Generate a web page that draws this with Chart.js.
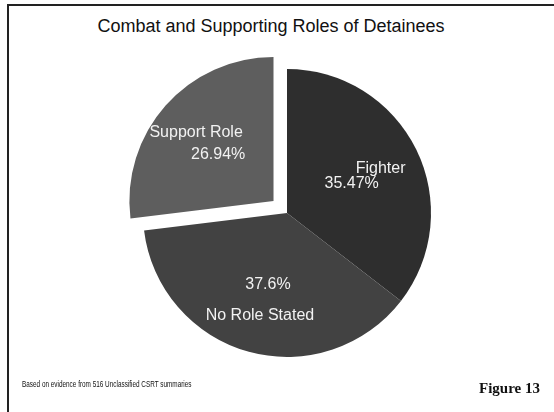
<!DOCTYPE html>
<html>
<head>
<meta charset="utf-8">
<script src="https://cdn.jsdelivr.net/npm/chart.js@4"></script>
<style>
  html, body { margin: 0; padding: 0; background: #fff; }
  #wrap { position: relative; width: 554px; height: 412px; overflow: hidden; }
  #frame { position: absolute; left: 7px; top: 4px; width: 560px; height: 420px;
           border-top: 2px solid #222; border-left: 2px solid #222; }
  #titulo { position: absolute; left: 0; top: 16px; width: 542px; text-align: center;
            font: 18px "Liberation Sans", Arial, sans-serif; color: #111; }
  #nota { position: absolute; left: 22px; top: 379px; transform: scaleX(0.71); transform-origin: left;
          font: 9px "Liberation Sans", Arial, sans-serif; color: #111; }
  #figura { position: absolute; left: 479px; top: 380px;
            font: bold 15px "Liberation Serif", "Times New Roman", serif; color: #111; }
  canvas { position: absolute; left: 0; top: 0; }
</style>
</head>
<body>
<div id="wrap">
  <div id="frame"></div>
  <div id="titulo">Combat and Supporting Roles of Detainees</div>
  <canvas id="torta" width="554" height="412"></canvas>
  <div id="nota">Based on evidence from 516 Unclassified CSRT summaries</div>
  <div id="figura">Figure 13</div>
</div>
<script>
// datos del grafico
const categorias = ['Fighter', 'No Role Stated', 'Support Role'];
const porcentajes = [35.47, 37.6, 26.94];
const textos = ['35.47%', '37.6%', '26.94%'];
const colores = ['#2e2e2e', '#424242', '#5e5e5e'];
// chart.js v4 divide el offset por 4 al dibujar
const desplazamiento = [0, 0, 72];

// etiquetas dentro de cada porcion (nombre y porcentaje)
const etiquetas = {
    id: 'etiquetas',
    afterDatasetsDraw(chart) {
        const c = chart.ctx;
        const arcos = chart.getDatasetMeta(0).data;
        // ajuste de cada texto respecto al centro de la porcion
        const ajustes = [
            { nombre: [29, -13], valor: [0, 2] },
            { nombre: [-8, 33], valor: [0, 2] },
            { nombre: [-10, -9], valor: [12, 13] }
        ];
        c.save();
        c.fillStyle = '#f2f2f2';
        c.font = '16px "Liberation Sans", Arial, sans-serif';
        c.textAlign = 'center';
        c.textBaseline = 'middle';
        arcos.forEach((arco, i) => {
            const p = arco.getCenterPoint();
            const a = ajustes[i];
            c.fillText(categorias[i], p.x + a.nombre[0], p.y + a.nombre[1]);
            c.fillText(textos[i], p.x + a.valor[0], p.y + a.valor[1]);
        });
        c.restore();
    }
};

const ctx = document.getElementById('torta');
new Chart(ctx, {
    type: 'pie',
    data: {
        labels: categorias,
        datasets: [{
            data: porcentajes,
            backgroundColor: colores,
            borderWidth: 0,
            offset: desplazamiento
        }]
    },
    options: {
        responsive: false,
        animation: false,
        layout: { padding: { top: 33, bottom: 19, left: 107, right: 87 } },
        plugins: {
            legend: { display: false },
            tooltip: { enabled: false }
        }
    },
    plugins: [etiquetas]
});
</script>
</body>
</html>
